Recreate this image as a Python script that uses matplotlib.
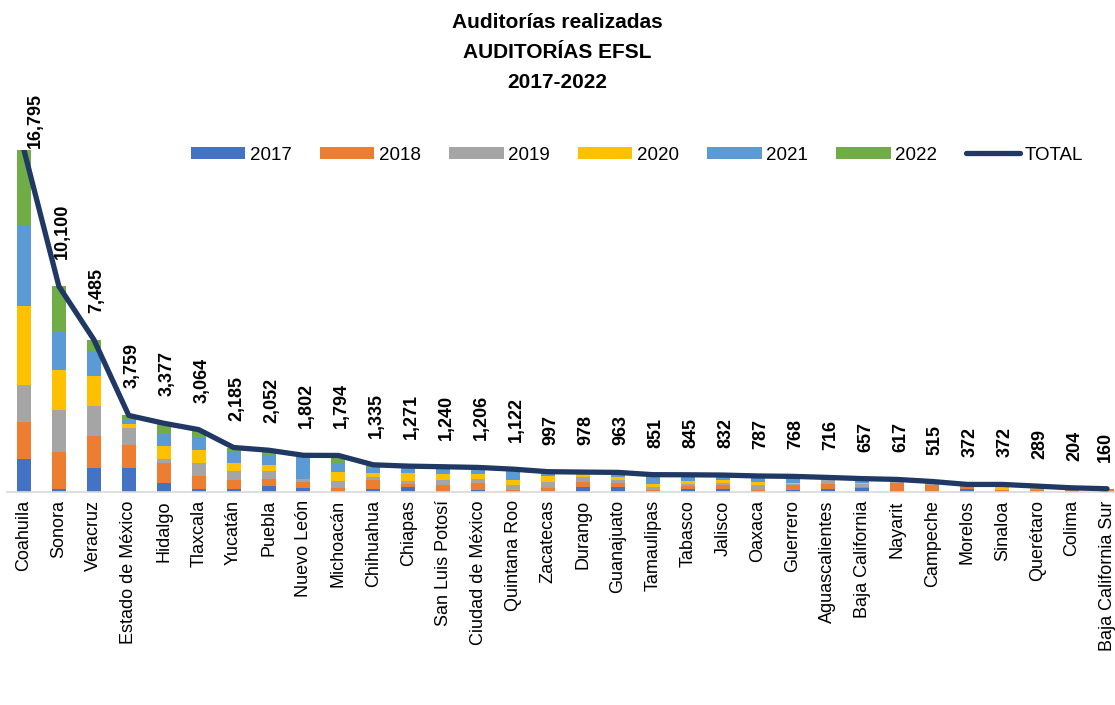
import matplotlib
matplotlib.use("Agg")
import matplotlib.pyplot as plt
import numpy as np

states = ["Coahuila", "Sonora", "Veracruz", "Estado de México", "Hidalgo", "Tlaxcala",
          "Yucatán", "Puebla", "Nuevo León", "Michoacán", "Chihuahua", "Chiapas",
          "San Luis Potosí", "Ciudad de México", "Quintana Roo", "Zacatecas", "Durango",
          "Guanajuato", "Tamaulipas", "Tabasco", "Jalisco", "Oaxaca", "Guerrero",
          "Aguascalientes", "Baja California", "Nayarit", "Campeche", "Morelos",
          "Sinaloa", "Querétaro", "Colima", "Baja California Sur"]

y2017 = [1610, 167, 1200, 1200, 430, 127, 130, 287, 193, 58, 137, 233, 42, 114, 25, 20, 250,
         236, 37, 139, 139, 33, 98, 155, 200, 30, 20, 150, 30, 0, 50, 40]
y2018 = [1837, 1773, 1550, 1100, 1000, 637, 470, 345, 284, 139, 433, 157, 295, 310, 63, 175,
         250, 195, 79, 139, 200, 85, 229, 224, 50, 400, 300, 200, 50, 100, 80, 40]
y2019 = [1806, 2084, 1470, 820, 210, 637, 437, 385, 148, 324, 154, 157, 255, 190, 252, 300,
         256, 136, 121, 120, 103, 240, 57, 229, 130, 50, 120, 22, 40, 60, 74, 30]
y2020 = [3857, 1970, 1480, 215, 610, 672, 404, 305, 20, 445, 228, 390, 295, 248, 272, 300,
         107, 160, 164, 145, 164, 150, 80, 108, 80, 67, 45, 0, 232, 129, 0, 0]
y2021 = [3991, 1855, 1240, 200, 610, 620, 508, 500, 1060, 480, 246, 233, 295, 252, 422, 152,
         100, 160, 304, 261, 200, 269, 304, 0, 197, 70, 30, 0, 20, 0, 0, 0]
y2022 = [3694, 2251, 545, 224, 517, 371, 236, 230, 97, 348, 137, 101, 58, 92, 88, 50,
         15, 76, 146, 41, 26, 10, 0, 0, 0, 0, 0, 0, 0, 0, 0, 50]
total = [16795, 10100, 7485, 3759, 3377, 3064, 2185, 2052, 1802, 1794, 1335, 1271, 1240,
         1206, 1122, 997, 978, 963, 851, 845, 832, 787, 768, 716, 657, 617, 515, 372, 372,
         289, 204, 160]

years = ["2017", "2018", "2019", "2020", "2021", "2022"]
series = [y2017, y2018, y2019, y2020, y2021, y2022]
colors = ["#4472C4", "#ED7D31", "#A5A5A5", "#FFC000", "#5B9BD5", "#70AD47"]
line_color = "#203864"

plt.rcParams['font.family'] = ['Liberation Sans', 'DejaVu Sans']

W, H = 1115, 705
fig = plt.figure(figsize=(W / 100, H / 100), dpi=100)
ax = fig.add_axes([6.5 / W, (H - 492) / H, 1118 / W, 342 / H])

x = np.arange(len(states))
bottom = np.zeros(len(states))
handles = []
for name, vals, c in zip(years, series, colors):
    v = np.array(vals, dtype=float)
    b = ax.bar(x, v, 0.4, bottom=bottom, color=c, label=name, zorder=2)
    handles.append(b)
    bottom += v

ln, = ax.plot(x, total, color=line_color, lw=3.8, solid_capstyle='round',
              solid_joinstyle='round', label="TOTAL", zorder=3)
handles.append(ln)

n = len(total)
for i, t in enumerate(total):
    if i == 0:
        off = (11, 2)
    elif i == n - 1:
        off = (-2, 27)
    else:
        off = (3, 27)
    ax.annotate(f"{t:,}", (i, t), xytext=off, textcoords='offset pixels',
                rotation=90, ha='center', va='bottom', fontsize=13,
                fontweight='bold', color='#000000', annotation_clip=False, zorder=4)

ax.set_xlim(-0.5, len(states) - 0.5)
ax.set_ylim(0, 16795)
ax.set_xticks(x)
ax.set_xticklabels(states, rotation=90, fontsize=13, ha='center', va='top')
ax.tick_params(axis='x', length=0, pad=6)
ax.set_yticks([])
for s in ['top', 'right', 'left']:
    ax.spines[s].set_visible(False)
ax.spines['bottom'].set_color('#D9D9D9')
ax.spines['bottom'].set_linewidth(1.2)

fig.text(0.5, 1 - 22 / H, "Auditorías realizadas", ha='center', va='center',
         fontsize=15, fontweight='bold')
fig.text(0.5, 1 - 52 / H, "AUDITORÍAS EFSL", ha='center', va='center',
         fontsize=15, fontweight='bold')
fig.text(0.5, 1 - 82 / H, "2017-2022", ha='center', va='center',
         fontsize=15, fontweight='bold')

leg = fig.legend(handles, years + ["TOTAL"], loc='center',
                 bbox_to_anchor=(637 / W, 1 - 155 / H), ncol=7,
                 frameon=False, fontsize=13.5, handlelength=2.9, handleheight=0.55,
                 handletextpad=0.25, columnspacing=1.5)

fig.savefig("out.png", dpi=100)
